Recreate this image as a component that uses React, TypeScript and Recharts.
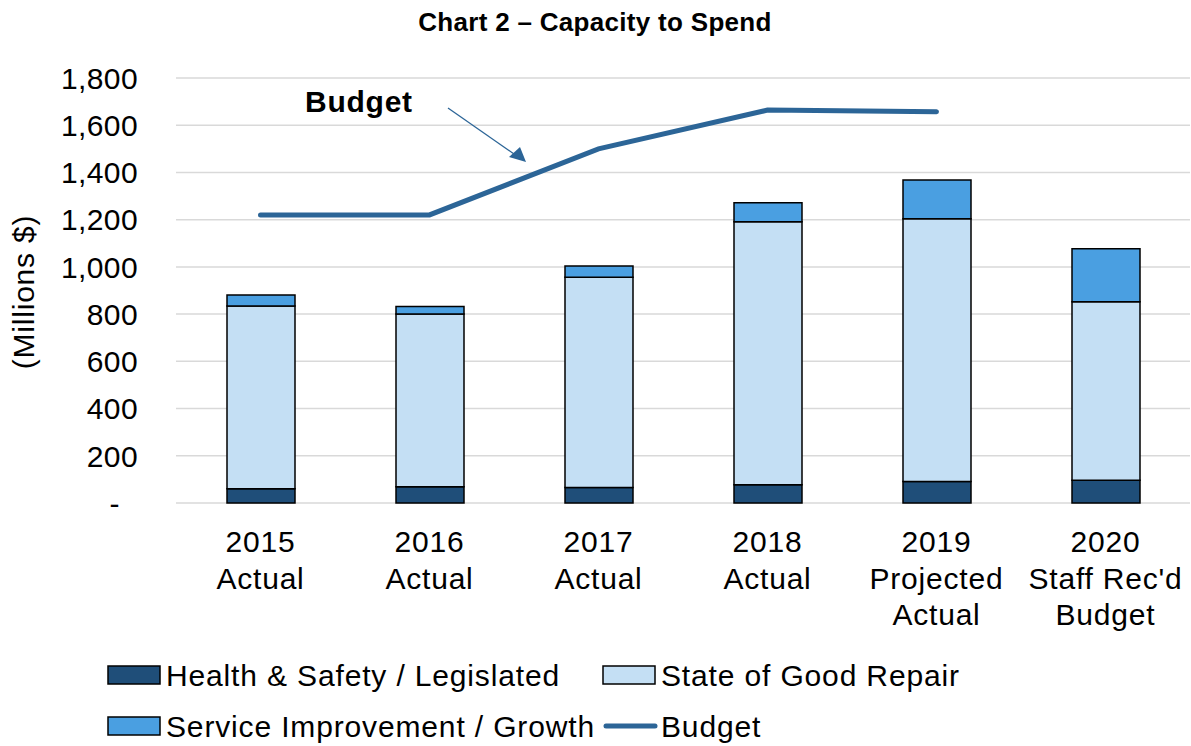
import React from 'react';
import { ComposedChart, Bar, Line, XAxis, YAxis, CartesianGrid } from 'recharts';

const categories = [
  '2015\nActual',
  '2016\nActual',
  '2017\nActual',
  '2018\nActual',
  '2019\nProjected\nActual',
  "2020\nStaff Rec'd\nBudget",
];
const healthSafety = [60, 69, 66, 77, 91, 96];
const goodRepair = [774, 731, 890, 1114, 1113, 756];
const serviceImprovement = [47, 32, 48, 81, 164, 225];
const budget: (number | null)[] = [1220, 1220, 1500, 1664, 1657, null];
const yTicks = [0, 200, 400, 600, 800, 1000, 1200, 1400, 1600, 1800];

const data = categories.map((name, i) => ({
  name,
  hs: healthSafety[i],
  sgr: goodRepair[i],
  si: serviceImprovement[i],
  budget: budget[i],
}));

const FONT = '"Liberation Sans", Arial, sans-serif';
const DARK = '#1F4E79';
const LIGHT = '#C4DFF4';
const MID = '#4A9FE1';
const LINE = '#2C6597';

const YTick = (props: any) => {
  const { x, y, payload } = props;
  const v = payload.value as number;
  return (
    <text
      x={v === 0 ? x - 18 : x}
      y={y}
      dy="0.36em"
      textAnchor="end"
      fontSize={30}
      letterSpacing={0.4}
      fill="#000"
      fontFamily={FONT}
    >
      {v === 0 ? '-' : v.toLocaleString('en-US')}
    </text>
  );
};

const XTick = (props: any) => {
  const { x, y, payload } = props;
  const lines = String(payload.value).split('\n');
  return (
    <text x={x} y={y} textAnchor="middle" fontSize={30} letterSpacing={0.8} fill="#000" fontFamily={FONT}>
      {lines.map((l, i) => (
        <tspan key={i} x={x} dy={i === 0 ? 49 : 36.5}>
          {l}
        </tspan>
      ))}
    </text>
  );
};

// two rows of legend entries, as in the original
const legendRows = [
  [
    { label: 'Health & Safety / Legislated', kind: 'box', color: DARK },
    { label: 'State of Good Repair', kind: 'box', color: LIGHT },
  ],
  [
    { label: 'Service Improvement / Growth', kind: 'box', color: MID },
    { label: 'Budget', kind: 'line', color: LINE },
  ],
];

const App: React.FC = () => {
  return (
    <div style={{ position: 'absolute', left: 0, top: 0, width: 1191, height: 746, background: '#fff', fontFamily: FONT }}>
      <ComposedChart width={1191} height={746} data={data} margin={{ top: 78, right: 1, left: 0, bottom: 0 }}>
        <CartesianGrid vertical={false} stroke="#D9D9D9" strokeWidth={1.5} />
        <XAxis
          dataKey="name"
          height={243}
          axisLine={false}
          tickLine={false}
          tickSize={0}
          tickMargin={0}
          interval={0}
          tick={<XTick />}
        />
        <YAxis
          width={176}
          domain={[0, 1800]}
          ticks={yTicks}
          axisLine={false}
          tickLine={false}
          tickSize={0}
          tickMargin={38}
          tick={<YTick />}
        />
        <Bar dataKey="hs" stackId="a" fill={DARK} stroke="#000" strokeWidth={1.5} barSize={68} isAnimationActive={false} />
        <Bar dataKey="sgr" stackId="a" fill={LIGHT} stroke="#000" strokeWidth={1.5} barSize={68} isAnimationActive={false} />
        <Bar dataKey="si" stackId="a" fill={MID} stroke="#000" strokeWidth={1.5} barSize={68} isAnimationActive={false} />
        <Line
          dataKey="budget"
          type="linear"
          stroke={LINE}
          strokeWidth={5}
          strokeLinecap="round"
          dot={false}
          activeDot={false}
          connectNulls={false}
          isAnimationActive={false}
        />
      </ComposedChart>

      <svg width={1191} height={746} style={{ position: 'absolute', left: 0, top: 0, pointerEvents: 'none' }}>
        <text x={595} y={31} textAnchor="middle" fontSize={26} fontWeight="bold" letterSpacing={0.3} fill="#000" fontFamily={FONT}>
          Chart 2 – Capacity to Spend
        </text>
        <text
          x={0}
          y={0}
          transform="translate(33.5,292) rotate(-90)"
          textAnchor="middle"
          fontSize={30}
          letterSpacing={0.8}
          fill="#000"
          fontFamily={FONT}
        >
          (Millions $)
        </text>

        {/* Budget annotation */}
        <text x={305} y={112} fontSize={30} fontWeight="bold" letterSpacing={0.75} fill="#000" fontFamily={FONT}>
          Budget
        </text>
        <line x1={448} y1={108} x2={514} y2={154} stroke={LINE} strokeWidth={1.3} />
        <polygon points="526,162 509,157 520,147" fill={LINE} />

        {/* Legend */}
        {legendRows.map((row, r) =>
          row.map((item, c) => {
            const sx = c === 0 ? 108 : 603;
            const cy = r === 0 ? 675 : 726;
            return (
              <g key={`${r}-${c}`}>
                {item.kind === 'box' ? (
                  <rect x={sx} y={cy - 9} width={52} height={18} fill={item.color} stroke="#000" strokeWidth={1.5} />
                ) : (
                  <line x1={sx + 3} y1={cy} x2={sx + 52} y2={cy} stroke={item.color} strokeWidth={5} strokeLinecap="round" />
                )}
                <text x={sx + 58} y={cy + 10.5} fontSize={30} letterSpacing={0.85} fill="#000" fontFamily={FONT}>
                  {item.label}
                </text>
              </g>
            );
          })
        )}
      </svg>
    </div>
  );
};

export default App;
